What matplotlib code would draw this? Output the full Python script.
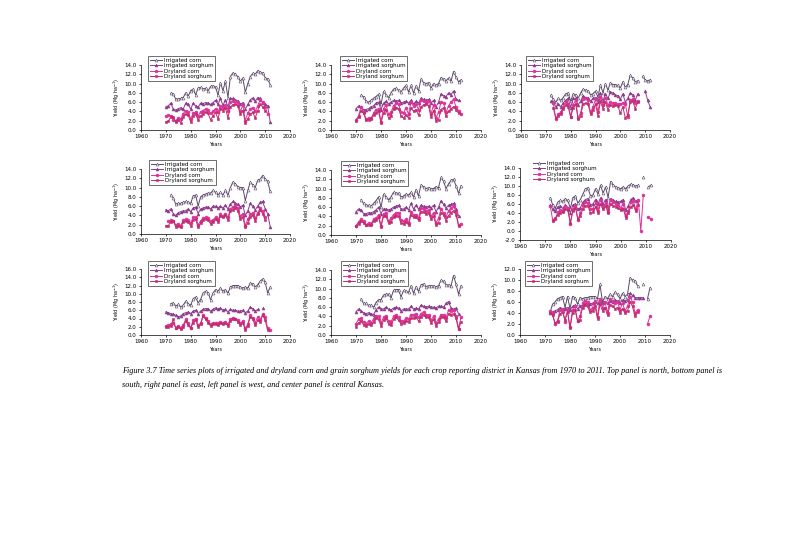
import numpy as np
import matplotlib
matplotlib.use('Agg')
import matplotlib.pyplot as plt

n = None
years = list(range(1970, 2013))
labels = ['Irrigated corn', 'Irrigated sorghum', 'Dryland corn', 'Dryland sorghum']

# north-west
nw_irr_corn = [n, n, 7.9, 7.8, 6.6, 6.7, 6.8, 7.0, 8.0, 7.3,
               8.5, 8.8, 7.6, 9.0, 9.2, 8.9, 9.0, 8.4, 9.4, 9.5,
               9.3, 7.5, 10.2, 8.5, 10.5, 7.0, 11.5, 12.3, 12.0, 11.5,
               10.5, 11.2, 8.1, 10.0, 11.5, 12.2, 12.0, 12.8, 12.4, 12.3,
               11.3, 11.0, 9.8]
nw_irr_sorg = [5.0, 5.2, 5.8, 4.5, 4.3, 4.6, 4.8, 4.5, 5.8, 5.5,
               4.5, 5.8, 5.2, 4.9, 5.8, 5.7, 5.9, 5.8, 5.5, 5.9,
               6.4, 5.5, 6.8, 5.3, 6.5, 5.0, 6.8, 6.8, 6.5, 6.3,
               5.5, 5.9, 4.5, 5.5, 6.5, 6.9, 6.2, 7.0, 6.8, 5.8,
               5.5, 5.2, 1.8]
nw_dry_corn = [3.0, 3.2, 3.0, 2.2, 2.0, 2.6, 2.4, 3.5, 4.2, 3.8,
               2.4, 3.6, 3.9, 3.0, 3.9, 4.2, 4.5, 4.3, 3.6, 4.0,
               4.6, 3.8, 5.2, 4.8, 5.4, 4.0, 6.0, 6.2, 6.2, 5.9,
               4.0, 5.4, 2.0, 3.6, 4.6, 4.8, 4.0, 5.2, 6.5, 6.0,
               5.0, 3.4, n]
nw_dry_sorg = [1.8, 1.9, 2.8, 2.9, 1.8, 2.2, 1.6, 2.8, 3.4, 3.2,
               1.8, 3.0, 3.4, 2.2, 3.0, 3.5, 3.8, 3.6, 2.2, 3.0,
               3.8, 2.4, 4.6, 4.2, 4.8, 2.6, 5.0, 5.4, 5.6, 5.2,
               3.4, 4.2, 1.6, 2.4, 3.4, 3.8, 2.6, 4.2, 5.5, 5.0,
               4.2, n, n]

# north-central
nc_irr_corn = [n, n, 7.5, 7.2, 6.2, 6.0, 6.4, 6.8, 7.2, 7.7,
               5.5, 8.3, 7.6, 7.0, 8.0, 8.8, 9.0, 8.6, 8.2, 9.0,
               9.6, 8.2, 9.6, 8.0, 9.5, 8.4, 11.0, 10.2, 10.0, 10.2,
               9.0, 10.0, 9.6, 10.0, 11.3, 11.0, 10.6, 11.2, 10.5, 12.6,
               11.4, 10.4, 10.8]
nc_irr_sorg = [4.6, 5.2, 5.0, 4.4, 4.4, 4.6, 5.0, 5.2, 5.8, 6.0,
               4.4, 5.8, 6.2, 5.6, 6.0, 6.4, 6.2, 6.4, 5.8, 6.0,
               6.2, 5.8, 6.4, 5.6, 6.2, 5.8, 6.8, 6.6, 6.4, 6.6,
               5.8, 6.4, 5.0, 6.0, 7.8, 7.4, 7.2, 8.0, 7.6, 8.4,
               6.6, 6.4, n]
nc_dry_corn = [2.2, 3.0, 5.0, 3.8, 2.4, 2.6, 2.4, 3.6, 4.4, 4.6,
               1.8, 4.6, 5.4, 3.4, 3.8, 5.2, 5.8, 5.6, 3.8, 3.6,
               4.8, 3.4, 6.0, 5.2, 5.6, 4.4, 6.4, 6.2, 6.0, 6.2,
               3.4, 5.4, 2.6, 3.8, 6.0, 5.8, 3.8, 5.2, 6.0, 6.6,
               5.0, 4.2, 3.4]
nc_dry_sorg = [2.0, 2.8, 4.2, 3.6, 2.2, 2.2, 2.6, 3.2, 3.6, 4.0,
               1.6, 3.6, 4.4, 2.6, 3.0, 4.6, 4.8, 4.6, 3.0, 2.6,
               3.2, 2.6, 4.8, 4.0, 4.4, 3.2, 5.0, 5.4, 5.6, 5.2,
               2.8, 4.2, 2.0, 2.2, 4.4, 4.8, 3.0, 4.0, 4.6, 5.0,
               4.4, 3.6, n]

# north-east
ne_irr_corn = [n, n, 7.5, 6.6, 6.0, 6.8, 6.4, 7.0, 7.8, 8.0,
               6.2, 7.8, 7.6, 6.8, 8.0, 8.8, 8.6, 8.4, 7.6, 7.8,
               8.4, 7.0, 9.8, 8.0, 10.0, 8.6, 10.2, 9.8, 9.8, 9.6,
               9.0, 10.4, 9.2, 9.8, 11.8, 11.2, 10.4, 10.6, n, 11.6,
               10.8, 10.6, 10.8]
ne_irr_sorg = [n, n, 6.2, 6.0, 5.0, 5.6, 5.0, 5.8, 6.4, 6.8,
               4.8, 6.8, 6.8, 5.4, 6.2, 7.4, 7.0, 7.0, 6.2, 6.8,
               7.0, 6.0, 8.0, 6.2, 7.8, 6.8, 8.2, 8.0, 7.6, 7.4,
               6.6, 7.8, 6.0, 6.8, 8.0, 7.6, 6.4, 7.8, n, n,
               8.4, 6.4, 5.0]
ne_dry_corn = [n, n, n, 5.8, 2.4, 3.4, 3.8, 5.0, 6.0, 5.6,
               2.8, 5.4, 6.4, 2.6, 3.6, 6.6, 6.8, 6.4, 3.8, 5.0,
               6.6, 3.8, 7.2, 5.4, 7.0, 5.4, 6.0, 5.8, 5.8, 5.6,
               5.6, 5.8, 5.6, 2.8, 6.4, 6.6, 5.8, 6.2, n, n,
               n, n, n]
ne_dry_sorg = [n, n, n, 4.8, 2.6, 3.0, 3.4, 4.6, 5.4, 5.0,
               2.8, 4.8, 5.6, 2.4, 3.0, 5.6, 5.8, 5.6, 3.4, 4.4,
               5.6, 3.0, 6.2, 4.6, 6.0, 4.4, 5.4, 5.2, 5.4, 5.2,
               3.6, 5.0, 2.6, 3.2, 6.0, 6.2, 4.6, 6.0, n, n,
               n, n, n]

# west-central
wc_irr_corn = [n, n, 8.4, 7.8, 6.4, 6.6, 6.6, 6.8, 7.0, 6.8,
               6.6, 8.2, 8.4, 6.0, 8.0, 8.4, 8.6, 8.8, 8.8, 9.4,
               9.0, 8.4, 9.0, 8.4, 9.4, 8.4, 10.0, 11.2, 10.8, 10.2,
               10.0, 10.0, 7.2, 9.4, 11.2, 10.6, 10.0, 11.6, 11.8, 12.6,
               11.8, 11.4, 9.2]
wc_irr_sorg = [5.2, 5.0, 5.4, 4.4, 4.0, 4.6, 4.8, 5.0, 5.0, 5.4,
               4.8, 5.6, 5.8, 4.4, 5.4, 5.6, 5.8, 5.8, 5.4, 6.0,
               6.0, 5.6, 6.0, 5.6, 6.2, 5.4, 6.4, 7.0, 6.6, 6.4,
               5.8, 6.2, 4.0, 5.0, 6.6, 6.0, 5.2, 6.0, 6.8, 7.0,
               5.4, 4.4, 1.6]
wc_dry_corn = [n, 2.8, 3.0, 2.8, 2.0, 2.2, 1.8, 3.0, 3.2, 3.0,
               2.4, 3.6, 3.6, 2.0, 2.8, 3.4, 3.6, 3.4, 2.8, 3.0,
               3.6, 3.0, 4.2, 3.8, 4.4, 3.6, 5.4, 5.8, 6.0, 5.6,
               3.8, 4.4, 1.8, 3.2, 4.2, 4.6, 3.4, 4.6, 5.6, 5.0,
               3.6, n, n]
wc_dry_sorg = [1.8, 1.8, 2.6, 2.8, 1.6, 1.8, 1.4, 2.6, 2.8, 2.6,
               1.8, 3.0, 3.2, 1.4, 2.4, 3.0, 3.2, 3.0, 2.2, 2.6,
               3.2, 2.6, 3.8, 3.6, 4.0, 3.0, 5.0, 5.2, 5.6, 5.0,
               3.2, 3.6, 1.4, 2.4, 3.6, 4.0, 2.8, 4.2, 5.2, 4.4,
               3.0, n, n]

# central
c_irr_corn = [n, n, 7.6, 6.8, 6.4, 6.4, 6.2, 6.8, 7.4, 8.2,
              6.0, 8.8, 8.2, 7.6, 8.2, 9.2, 9.0, 9.0, 8.2, 8.4,
              8.8, 8.6, 9.2, 8.2, 9.8, 8.4, 10.8, 10.4, 10.0, 10.2,
              10.0, 10.0, 10.4, 10.2, 12.4, 11.6, 10.0, 11.0, 11.8, 12.0,
              10.6, 9.0, 10.6]
c_irr_sorg = [5.0, 5.6, 5.4, 4.6, 4.6, 4.8, 4.8, 5.0, 5.4, 6.0,
              4.6, 5.6, 5.6, 5.4, 5.6, 6.0, 6.2, 6.4, 5.6, 5.6,
              6.0, 5.4, 6.8, 5.6, 6.4, 5.6, 6.4, 6.2, 6.0, 6.2,
              5.8, 6.4, 5.0, 6.0, 7.4, 6.6, 5.8, 6.4, 6.6, 6.8,
              5.6, 4.2, n]
c_dry_corn = [2.0, 2.8, 3.4, 3.0, 2.2, 2.6, 2.4, 3.4, 3.6, 4.4,
              2.0, 4.6, 4.8, 3.0, 3.6, 4.4, 4.8, 4.8, 3.2, 3.0,
              3.4, 2.6, 5.0, 4.4, 4.4, 3.6, 5.8, 5.6, 5.2, 5.4,
              4.0, 4.8, 2.6, 3.6, 5.6, 4.8, 3.8, 5.2, 5.8, 6.2,
              5.0, 2.2, 2.4]
c_dry_sorg = [2.0, 2.4, 3.0, 2.6, 2.2, 2.2, 2.2, 3.0, 3.2, 3.8,
              1.8, 4.0, 4.0, 2.6, 2.8, 3.8, 4.2, 4.0, 2.6, 2.4,
              2.8, 2.2, 4.4, 3.8, 3.8, 3.2, 5.0, 5.0, 4.6, 4.8,
              3.4, 4.0, 2.2, 2.6, 4.8, 4.4, 3.0, 4.2, 4.8, 5.2,
              4.4, 2.0, n]

# east-central
ec_irr_corn = [n, n, 7.4, 5.8, 5.0, 6.4, 6.8, 6.6, 7.2, 6.8,
               5.0, 7.4, 7.8, 6.2, 7.0, 8.2, 9.4, 9.6, 7.8, 8.0,
               9.4, 8.2, 10.2, 8.4, 9.8, 7.4, 11.0, 10.2, 9.8, 9.6,
               9.4, 9.8, 9.4, 10.0, 10.4, 10.2, 10.0, 10.2, n, 11.9,
               n, 9.8, 10.2]
ec_irr_sorg = [n, n, 5.8, 4.8, 4.4, 5.4, 5.6, 5.0, 5.8, 5.2,
               4.0, 5.8, 6.0, 4.8, 5.2, 6.4, 7.0, 7.2, 5.8, 6.0,
               7.0, 6.0, 7.4, 6.0, 7.0, 5.0, 7.2, 6.8, 6.6, 6.4,
               6.6, 7.0, 4.6, 5.6, 7.0, 7.4, 6.6, 6.8, n, n,
               n, n, n]
ec_dry_corn = [n, n, 5.6, 2.4, 2.6, 4.2, 4.6, 4.4, 5.6, 5.2,
               1.6, 4.8, 5.8, 2.4, 4.0, 5.8, 6.4, 6.2, 4.8, 5.0,
               6.2, 4.4, 7.0, 5.4, 6.2, 4.2, 7.0, 6.4, 6.0, 5.8,
               5.2, 6.0, 3.4, 4.4, 6.4, 6.6, 4.8, 7.0, 0.0, 8.0,
               n, 3.2, 2.6]
ec_dry_sorg = [n, n, n, 2.2, 2.8, 3.6, 4.0, 4.2, 5.0, 4.6,
               1.8, 4.4, 5.2, 2.6, 3.4, 5.0, 5.6, 5.6, 4.0, 4.2,
               5.4, 4.0, 6.0, 4.8, 5.6, 4.0, 6.0, 5.6, 5.4, 5.2,
               4.6, 5.0, 3.0, 4.0, 5.4, 5.8, 4.4, 5.8, n, n,
               n, n, n]

# south-west
sw_irr_corn = [n, n, 7.6, 7.8, 7.0, 7.4, 6.8, 7.2, 8.2, 7.6,
               7.2, 8.8, 9.2, 7.8, 8.6, 10.2, 10.6, 10.2, 8.6, 10.2,
               11.0, 10.6, 11.4, 10.6, 11.0, 10.2, 11.6, 12.0, 12.0, 12.0,
               11.6, 11.4, 11.6, 11.4, 12.6, 12.4, 11.6, 12.2, 13.0, 13.6,
               12.8, 10.2, 11.6]
sw_irr_sorg = [5.6, 5.4, 5.2, 5.0, 4.8, 4.4, 4.6, 5.2, 5.4, 5.6,
               5.2, 5.8, 6.0, 5.2, 5.8, 6.2, 6.4, 6.4, 5.8, 6.2,
               6.6, 6.2, 6.6, 6.0, 6.2, 5.6, 6.2, 6.0, 6.0, 5.8,
               5.8, 6.0, 5.4, 5.8, 6.8, 6.4, 5.8, 6.2, n, 6.6,
               n, n, n]
sw_dry_corn = [2.2, 2.4, 2.6, 2.8, 1.8, 2.2, 1.8, 2.4, 3.8, 2.8,
               1.8, 3.6, 4.0, 2.4, 2.8, 4.8, 4.2, 3.4, 2.6, 2.8,
               3.0, 2.8, 3.2, 3.0, 3.2, 2.6, 3.8, 4.2, 4.0, 3.6,
               2.8, 3.4, 1.6, 2.6, 4.8, 4.2, 3.0, 4.4, 3.6, 5.0,
               4.4, 1.6, 1.2]
sw_dry_sorg = [2.0, 2.0, 2.2, 3.8, 1.6, 2.0, 1.4, 2.0, 3.4, 2.4,
               1.6, 3.0, 3.6, 2.0, 2.6, 4.6, 3.8, 3.0, 2.2, 2.6,
               2.6, 2.4, 2.8, 2.6, 2.8, 2.2, 3.4, 3.8, 4.0, 3.2,
               2.4, 3.0, 1.2, 2.2, 4.4, 3.8, 2.4, 3.6, 3.2, 4.8,
               3.6, 1.2, n]

# south-central
sc_irr_corn = [n, n, 7.8, 6.8, 6.8, 6.4, 6.4, 6.0, 7.0, 7.6,
               7.6, 8.6, 8.8, 8.8, 8.0, 9.6, 9.8, 9.8, 8.2, 9.6,
               9.4, 9.2, 10.6, 9.0, 10.4, 9.4, 10.8, 11.0, 10.4, 10.6,
               10.6, 10.6, 10.4, 10.6, 11.8, 11.6, 10.8, 10.8, 10.6, 12.8,
               11.0, 8.8, 10.6]
sc_irr_sorg = [5.0, 5.6, 5.2, 4.8, 4.6, 4.8, 4.6, 4.4, 5.4, 6.0,
               5.6, 5.6, 6.0, 5.6, 5.4, 5.8, 6.0, 5.8, 5.2, 5.6,
               5.6, 5.6, 6.2, 5.6, 5.8, 5.6, 6.4, 6.2, 6.0, 6.2,
               6.0, 6.0, 5.8, 6.2, 6.2, 6.0, 6.8, 7.2, 5.8, 5.6,
               5.8, 4.6, n]
sc_dry_corn = [2.4, 3.4, 3.6, 2.8, 2.4, 3.0, 2.6, 3.4, 4.2, 4.0,
               2.6, 3.8, 4.2, 3.0, 2.8, 4.0, 4.4, 3.8, 3.0, 3.0,
               3.6, 3.4, 4.4, 4.4, 4.6, 3.8, 4.6, 5.0, 4.4, 4.4,
               3.2, 4.0, 2.6, 3.4, 4.4, 4.4, 3.6, 5.4, 5.2, 5.4,
               4.2, 1.4, 3.8]
sc_dry_sorg = [1.8, 2.6, 3.0, 2.2, 2.0, 2.4, 2.2, 2.8, 3.6, 3.4,
               2.0, 3.2, 3.6, 2.4, 2.2, 3.4, 3.8, 3.2, 2.4, 2.6,
               3.0, 2.8, 3.6, 3.6, 3.8, 3.0, 3.8, 4.4, 3.8, 3.8,
               2.6, 3.4, 2.0, 2.8, 3.8, 3.8, 3.0, 4.6, 4.4, 4.6,
               3.6, 1.2, 2.8]

# south-east
se_irr_corn = [n, n, 4.0, 5.6, 6.0, 6.6, 6.8, 7.0, 5.0, 7.0,
               4.8, 7.0, 6.8, 5.6, 6.8, 6.6, 6.8, 6.8, 7.0, 7.0,
               7.0, 6.6, 9.2, 6.0, 7.0, 6.6, 7.4, 7.0, 7.8, 7.4,
               6.6, 7.6, 7.0, 7.4, 10.4, 10.0, 9.8, 9.0, n, 9.2,
               n, 6.6, 8.6]
se_irr_sorg = [n, n, 4.2, 4.2, 4.4, 4.6, 5.0, 4.8, 4.8, 5.0,
               4.6, 5.2, 5.4, 4.8, 5.2, 5.4, 5.6, 5.8, 5.6, 5.8,
               6.0, 5.8, 6.2, 5.8, 6.0, 5.8, 6.2, 6.0, 6.4, 6.2,
               5.8, 6.4, 6.2, 6.4, 7.6, 7.2, 6.8, 6.8, 6.8, 6.8,
               n, n, n]
se_dry_corn = [n, n, 4.4, 4.0, 2.0, 2.6, 4.6, 4.8, 2.4, 4.6,
               1.4, 4.6, 5.2, 2.6, 3.4, 5.8, 6.2, 6.0, 4.6, 5.0,
               6.2, 3.2, 6.6, 5.0, 6.0, 4.0, 6.6, 6.2, 5.8, 6.0,
               4.6, 5.8, 4.4, 5.2, 7.0, 6.0, 4.0, 4.6, n, n,
               n, 2.0, 3.4]
se_dry_sorg = [n, n, 4.0, 3.6, 2.2, 2.4, 3.8, 4.2, 2.8, 4.2,
               1.2, 4.0, 4.6, 2.6, 2.8, 5.0, 5.4, 5.2, 4.2, 4.4,
               5.2, 3.0, 5.6, 4.4, 5.0, 3.6, 5.4, 5.2, 4.8, 5.0,
               4.0, 4.8, 4.0, 4.4, 6.0, 5.2, 3.4, 4.2, n, n,
               n, n, n]

colors = ['#5a4868', '#8c3c8c', '#e0309c', '#c02c6c']
markers = ['^', '^', 'o', 's']
faces = ['white', '#8c3c8c', '#e0309c', '#c02c6c']

W, H = 800, 533
fig = plt.figure(figsize=(8, 5.33), dpi=100)

# (series, pixel box left, right, top, bottom, ymin, ymax, legend corner, legend frame)
panels = [
    ([nw_irr_corn, nw_irr_sorg, nw_dry_corn, nw_dry_sorg], 141, 290, 65, 130, 0, 14, (148, 56), True),
    ([nc_irr_corn, nc_irr_sorg, nc_dry_corn, nc_dry_sorg], 331, 481, 65, 130, 0, 14, (340, 56), True),
    ([ne_irr_corn, ne_irr_sorg, ne_dry_corn, ne_dry_sorg], 521, 670, 65, 130, 0, 14, (526, 56), True),
    ([wc_irr_corn, wc_irr_sorg, wc_dry_corn, wc_dry_sorg], 141, 290, 169, 234, 0, 14, (149, 160), True),
    ([c_irr_corn, c_irr_sorg, c_dry_corn, c_dry_sorg], 331, 481, 170, 235, 0, 14, (341, 161), True),
    ([ec_irr_corn, ec_irr_sorg, ec_dry_corn, ec_dry_sorg], 520, 671, 168, 240, -2, 14, (531, 159), False),
    ([sw_irr_corn, sw_irr_sorg, sw_dry_corn, sw_dry_sorg], 141, 290, 269, 335, 0, 16, (148, 261), True),
    ([sc_irr_corn, sc_irr_sorg, sc_dry_corn, sc_dry_sorg], 331, 481, 270, 335, 0, 14, (341, 261), True),
    ([se_irr_corn, se_irr_sorg, se_dry_corn, se_dry_sorg], 520, 670, 269, 335, 0, 12, (525, 261), True),
]

for series, l, r, t, b, y0, y1, lg, frame in panels:
    ax = fig.add_axes([l / W, 1 - b / H, (r - l) / W, (b - t) / H])
    for i, s in enumerate(series):
        vals = np.array(s, dtype=float)
        ax.plot(years, vals, color=colors[i], lw=0.7, marker=markers[i],
                ms=2.1, mfc=faces[i], mec=colors[i], mew=0.4, label=labels[i])
    ax.set_xlim(1960, 2020)
    ax.set_ylim(y0, y1)
    ax.set_xticks(range(1960, 2021, 10))
    ax.set_yticks(np.arange(y0, y1 + 0.1, 2))
    ax.set_yticklabels(['%.1f' % v for v in np.arange(y0, y1 + 0.1, 2)])
    for sp in ['top', 'right']:
        ax.spines[sp].set_visible(False)
    for sp in ['left', 'bottom']:
        ax.spines[sp].set_linewidth(0.5)
    ax.tick_params(labelsize=4, length=1.5, width=0.5, pad=1.5, direction='out')
    ax.set_xlabel('Years', fontsize=3.5, labelpad=2)
    ax.set_ylabel('Yield (Mg ha$^{-1}$)', fontsize=3.5, labelpad=2)
    leg = ax.legend(loc='upper left', bbox_to_anchor=(lg[0] / W, 1 - lg[1] / H),
                    bbox_transform=fig.transFigure, fontsize=4, frameon=frame,
                    fancybox=False, borderpad=0.3, labelspacing=0.1,
                    handlelength=2.2, handletextpad=0.3, borderaxespad=0)
    if frame:
        leg.get_frame().set_edgecolor('black')
        leg.get_frame().set_linewidth(0.5)

cap1 = ('Figure 3.7 Time series plots of irrigated and dryland corn and grain sorghum yields '
        'for each crop reporting district in Kansas from 1970 to 2011. Top panel is north, bottom panel is')
cap2 = 'south, right panel is east, left panel is west, and center panel is central Kansas.'
fig.text(122 / W, 1 - 371 / H, cap1, fontsize=5.95, family='Liberation Serif',
         style='italic', va='center')
fig.text(122 / W, 1 - 385 / H, cap2, fontsize=5.95, family='Liberation Serif',
         style='italic', va='center')

fig.savefig('out.png', dpi=100)
